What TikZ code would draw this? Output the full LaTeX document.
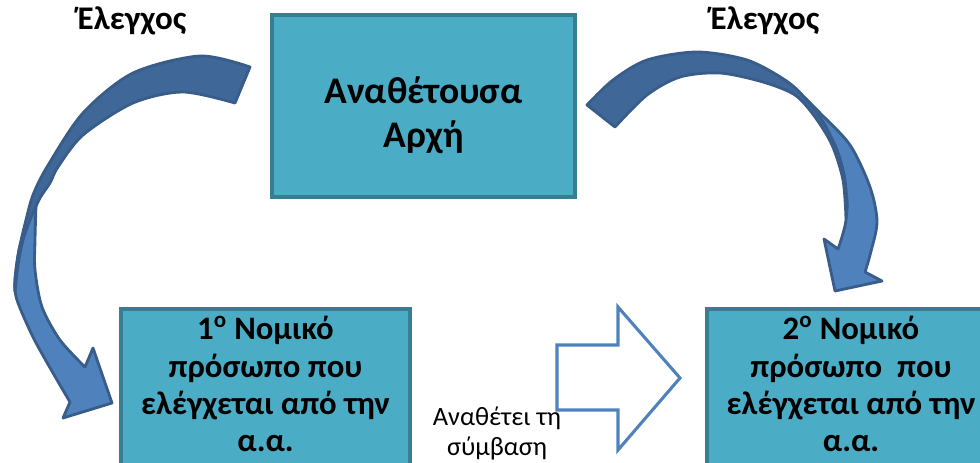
\documentclass[tikz,border=0pt]{standalone}
\usepackage{fontspec}
\setmainfont{Carlito}
\usepackage{xcolor}
\definecolor{boxfill}{HTML}{4BACC6}
\definecolor{boxline}{HTML}{387E93}
\definecolor{bentdark}{HTML}{3F6797}
\definecolor{bentlight}{HTML}{4F81BD}
\definecolor{bentline}{HTML}{385D8A}

\begin{document}
\begin{tikzpicture}[x=0.025cm, y=-0.025cm,
	box/.style={draw=boxline, line width=2.6pt, fill=boxfill, inner sep=0pt},
	boxtext/.style={align=center, inner sep=0pt, font=\bfseries\fontsize{23.3}{26.5}\selectfont},
	tag/.style={anchor=base, font=\bfseries\fontsize{23.5}{26}\selectfont},
	note/.style={align=center, inner sep=0pt, font=\fontsize{18.8}{21.3}\selectfont},
	bent/.style={draw=bentline, line width=2pt, line join=round, fill=#1},
	hollow/.style={draw=bentlight, line width=2.2pt, line join=miter}]
  \useasboundingbox (0,0) rectangle (980,462);
  \clip (0,0) rectangle (980,462);
  \node[box, minimum width=7.575cm, minimum height=4.55cm] (authority) at (423.5,106) {};
  \node[box, minimum width=7.225cm, minimum height=3.975cm] (first) at (265.5,388.5) {};
  \node[box, minimum width=7.2cm, minimum height=3.975cm] (second) at (851,388.5) {};
  \node[boxtext, font=\bfseries\fontsize{26.7}{31.3}\selectfont] (authoritytext) at (423.5,115.5) {Αναθέτουσα\\Αρχή};
  \node[boxtext] (firsttext) at (265.5,384) {1\textsuperscript{ο} Νομικό\\πρόσωπο που\\ελέγχεται από την\\α.α.};
  \node[boxtext] (secondtext) at (851,384) {2\textsuperscript{ο} Νομικό\\πρόσωπο\ \ που\\ελέγχεται από την\\α.α.};
  \node[tag] (checkleft) at (132,29) {Έλεγχος};
  \node[tag] (checkright) at (765,29) {Έλεγχος};
  \node[note] (award) at (497,433) {Αναθέτει τη\\σύμβαση};
  \draw[hollow] (557,345) -- (618,345) -- (618,307) -- (680,378) -- (618,450) -- (618,410) -- (557,410) -- cycle;
  \draw[bent=bentlight] plot[smooth] coordinates {(36,205) (27,225) (19,250) (15,280) (17,300) (33,337) (53,373) (70,402)}
		-- (63,418) -- (112,403) -- (93,348)
		-- plot[smooth] coordinates {(85,367) (60,340) (42,307) (35,270) (35,240) (36,205)} -- cycle;
  \draw[bent=bentdark] plot[smooth] coordinates {(250,67) (200,56) (133,73) (83,113) (47,167) (33,195) (26,220) (19,250) (15,280) (15,292)}
		-- plot[smooth] coordinates {(15,292) (18,265) (23,240) (30,220) (40,198) (50,183) (58,167) (83,135) (133,103) (183,92) (235,103)} -- cycle;
  \draw[bent=bentlight] plot[smooth] coordinates {(805,98) (820,113) (850,145) (870,187) (877,222) (870,255) (865,272)}
		-- (882,281) -- (835,291) -- (824,239)
		-- plot[smooth] coordinates {(838,249) (846,220) (845,180) (835,145) (818,118) (805,98)} -- cycle;
  \draw[bent=bentdark] plot[smooth] coordinates {(587,105) (613,80) (647,60) (697,52) (747,60) (785,80) (805,98) (825,125) (840,160) (847,200) (846,218)}
		-- plot[smooth] coordinates {(846,218) (843,180) (832,145) (815,117) (795,95) (763,82) (720,73) (680,77) (647,95) (615,127)} -- cycle;
\end{tikzpicture}
\end{document}
